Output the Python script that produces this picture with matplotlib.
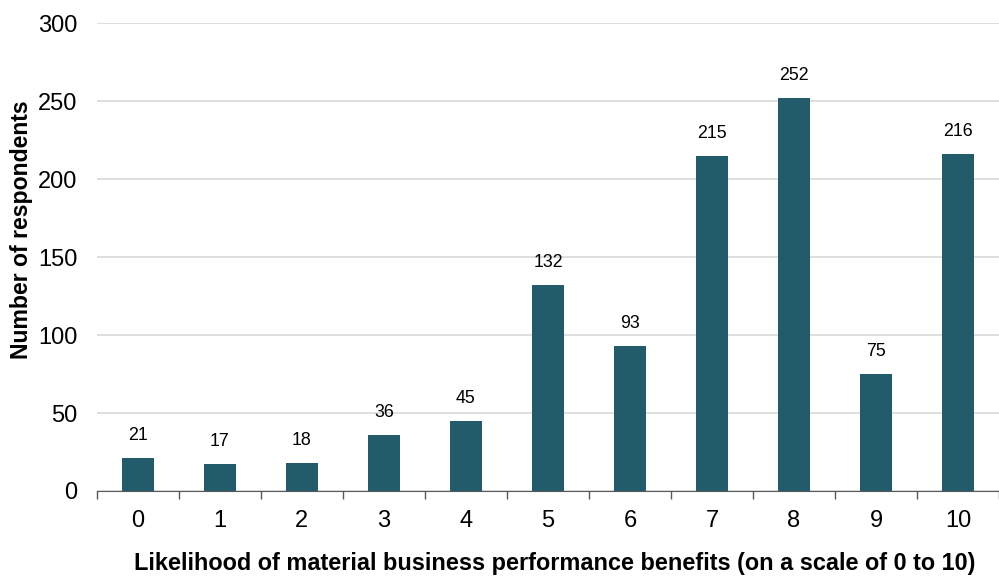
import numpy as np
import matplotlib.pyplot as plt

plt.rcParams['font.family'] = ['Liberation Sans', 'DejaVu Sans']

scores = [str(i) for i in range(11)]
respondents = [21, 17, 18, 36, 45, 132, 93, 215, 252, 75, 216]
bar_color = '#225b6a'

fig = plt.figure(figsize=(9.99, 5.79), dpi=100)
ax = fig.add_axes([0.097, 0.152, 0.903, 0.808])

x = np.arange(len(scores))
bars = ax.bar(x, respondents, width=0.4, color=bar_color, zorder=3)
for xi, v in zip(x, respondents):
    ax.text(xi, v + 9, str(v), ha='center', va='bottom', fontsize=12.8)

ax.set_xlim(-0.5, 10.5)
ax.set_ylim(0, 300)
ax.set_yticks(range(0, 301, 50))
ax.yaxis.grid(True, color='#d9d9d9', linewidth=1.2, zorder=0)
ax.tick_params(axis='y', length=0, labelsize=17, pad=14)

ax.set_xticks(x)
ax.set_xticklabels(scores)
ax.set_xticks(np.arange(-0.5, 10.6, 1), minor=True)
ax.tick_params(axis='x', which='major', length=0, labelsize=17, pad=14)
ax.tick_params(axis='x', which='minor', length=6, color='#595959', width=1)

for s in ['top', 'right', 'left']:
    ax.spines[s].set_visible(False)
ax.spines['bottom'].set_color('#595959')

ax.set_xlabel('Likelihood of material business performance benefits (on a scale of 0 to 10)',
              fontsize=16.9, fontweight='bold')
ax.xaxis.set_label_coords(0.508, -0.13)
ax.set_ylabel('Number of respondents', fontsize=16.6, fontweight='bold', labelpad=4)
ax.yaxis.label.set_y(0.558)

fig.savefig('out.png', dpi=100)
